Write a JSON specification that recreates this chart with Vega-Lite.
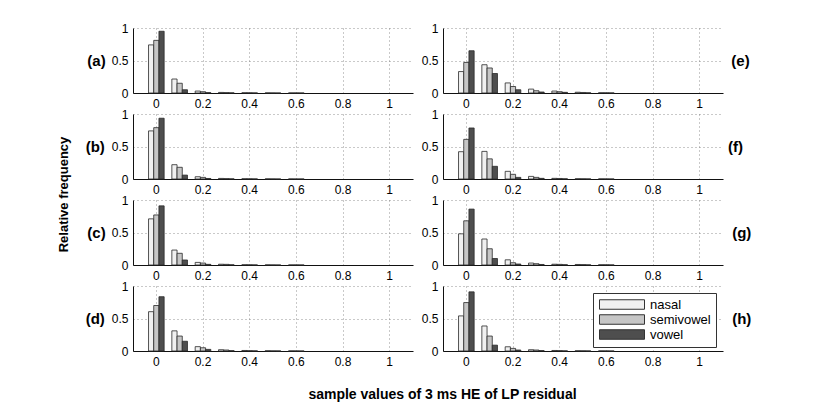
{
  "$schema": "https://vega.github.io/schema/vega-lite/v6.json",
  "padding": {"left": 57, "top": 22, "right": 5, "bottom": 5},
  "background": "white",
  "data": {"values": [
    {"panel": "(a)", "bin": 0, "type": "nasal", "value": 0.74},
    {"panel": "(a)", "bin": 0, "type": "semivowel", "value": 0.81},
    {"panel": "(a)", "bin": 0, "type": "vowel", "value": 0.95},
    {"panel": "(a)", "bin": 0.1, "type": "nasal", "value": 0.215},
    {"panel": "(a)", "bin": 0.1, "type": "semivowel", "value": 0.15},
    {"panel": "(a)", "bin": 0.1, "type": "vowel", "value": 0.05},
    {"panel": "(a)", "bin": 0.2, "type": "nasal", "value": 0.03},
    {"panel": "(a)", "bin": 0.2, "type": "semivowel", "value": 0.02},
    {"panel": "(a)", "bin": 0.2, "type": "vowel", "value": 0.006},
    {"panel": "(a)", "bin": 0.3, "type": "nasal", "value": 0.009},
    {"panel": "(a)", "bin": 0.3, "type": "semivowel", "value": 0.006},
    {"panel": "(a)", "bin": 0.3, "type": "vowel", "value": 0.002},
    {"panel": "(a)", "bin": 0.4, "type": "nasal", "value": 0.004},
    {"panel": "(a)", "bin": 0.4, "type": "semivowel", "value": 0.003},
    {"panel": "(a)", "bin": 0.4, "type": "vowel", "value": 0.001},
    {"panel": "(a)", "bin": 0.5, "type": "nasal", "value": 0.002},
    {"panel": "(a)", "bin": 0.5, "type": "semivowel", "value": 0.001},
    {"panel": "(a)", "bin": 0.5, "type": "vowel", "value": 0},
    {"panel": "(a)", "bin": 0.6, "type": "nasal", "value": 0.001},
    {"panel": "(a)", "bin": 0.6, "type": "semivowel", "value": 0.001},
    {"panel": "(a)", "bin": 0.6, "type": "vowel", "value": 0},

    {"panel": "(b)", "bin": 0, "type": "nasal", "value": 0.74},
    {"panel": "(b)", "bin": 0, "type": "semivowel", "value": 0.79},
    {"panel": "(b)", "bin": 0, "type": "vowel", "value": 0.935},
    {"panel": "(b)", "bin": 0.1, "type": "nasal", "value": 0.22},
    {"panel": "(b)", "bin": 0.1, "type": "semivowel", "value": 0.18},
    {"panel": "(b)", "bin": 0.1, "type": "vowel", "value": 0.06},
    {"panel": "(b)", "bin": 0.2, "type": "nasal", "value": 0.035},
    {"panel": "(b)", "bin": 0.2, "type": "semivowel", "value": 0.025},
    {"panel": "(b)", "bin": 0.2, "type": "vowel", "value": 0.008},
    {"panel": "(b)", "bin": 0.3, "type": "nasal", "value": 0.009},
    {"panel": "(b)", "bin": 0.3, "type": "semivowel", "value": 0.006},
    {"panel": "(b)", "bin": 0.3, "type": "vowel", "value": 0.002},
    {"panel": "(b)", "bin": 0.4, "type": "nasal", "value": 0.004},
    {"panel": "(b)", "bin": 0.4, "type": "semivowel", "value": 0.003},
    {"panel": "(b)", "bin": 0.4, "type": "vowel", "value": 0.001},
    {"panel": "(b)", "bin": 0.5, "type": "nasal", "value": 0.002},
    {"panel": "(b)", "bin": 0.5, "type": "semivowel", "value": 0.001},
    {"panel": "(b)", "bin": 0.5, "type": "vowel", "value": 0},
    {"panel": "(b)", "bin": 0.6, "type": "nasal", "value": 0.001},
    {"panel": "(b)", "bin": 0.6, "type": "semivowel", "value": 0},
    {"panel": "(b)", "bin": 0.6, "type": "vowel", "value": 0},

    {"panel": "(c)", "bin": 0, "type": "nasal", "value": 0.71},
    {"panel": "(c)", "bin": 0, "type": "semivowel", "value": 0.77},
    {"panel": "(c)", "bin": 0, "type": "vowel", "value": 0.91},
    {"panel": "(c)", "bin": 0.1, "type": "nasal", "value": 0.23},
    {"panel": "(c)", "bin": 0.1, "type": "semivowel", "value": 0.18},
    {"panel": "(c)", "bin": 0.1, "type": "vowel", "value": 0.077},
    {"panel": "(c)", "bin": 0.2, "type": "nasal", "value": 0.04},
    {"panel": "(c)", "bin": 0.2, "type": "semivowel", "value": 0.03},
    {"panel": "(c)", "bin": 0.2, "type": "vowel", "value": 0.01},
    {"panel": "(c)", "bin": 0.3, "type": "nasal", "value": 0.012},
    {"panel": "(c)", "bin": 0.3, "type": "semivowel", "value": 0.01},
    {"panel": "(c)", "bin": 0.3, "type": "vowel", "value": 0.003},
    {"panel": "(c)", "bin": 0.4, "type": "nasal", "value": 0.004},
    {"panel": "(c)", "bin": 0.4, "type": "semivowel", "value": 0.003},
    {"panel": "(c)", "bin": 0.4, "type": "vowel", "value": 0.001},
    {"panel": "(c)", "bin": 0.5, "type": "nasal", "value": 0.002},
    {"panel": "(c)", "bin": 0.5, "type": "semivowel", "value": 0.001},
    {"panel": "(c)", "bin": 0.5, "type": "vowel", "value": 0},
    {"panel": "(c)", "bin": 0.6, "type": "nasal", "value": 0.001},
    {"panel": "(c)", "bin": 0.6, "type": "semivowel", "value": 0.001},
    {"panel": "(c)", "bin": 0.6, "type": "vowel", "value": 0},

    {"panel": "(d)", "bin": 0, "type": "nasal", "value": 0.605},
    {"panel": "(d)", "bin": 0, "type": "semivowel", "value": 0.7},
    {"panel": "(d)", "bin": 0, "type": "vowel", "value": 0.835},
    {"panel": "(d)", "bin": 0.1, "type": "nasal", "value": 0.31},
    {"panel": "(d)", "bin": 0.1, "type": "semivowel", "value": 0.23},
    {"panel": "(d)", "bin": 0.1, "type": "vowel", "value": 0.15},
    {"panel": "(d)", "bin": 0.2, "type": "nasal", "value": 0.067},
    {"panel": "(d)", "bin": 0.2, "type": "semivowel", "value": 0.05},
    {"panel": "(d)", "bin": 0.2, "type": "vowel", "value": 0.025},
    {"panel": "(d)", "bin": 0.3, "type": "nasal", "value": 0.02},
    {"panel": "(d)", "bin": 0.3, "type": "semivowel", "value": 0.015},
    {"panel": "(d)", "bin": 0.3, "type": "vowel", "value": 0.005},
    {"panel": "(d)", "bin": 0.4, "type": "nasal", "value": 0.008},
    {"panel": "(d)", "bin": 0.4, "type": "semivowel", "value": 0.005},
    {"panel": "(d)", "bin": 0.4, "type": "vowel", "value": 0.002},
    {"panel": "(d)", "bin": 0.5, "type": "nasal", "value": 0.004},
    {"panel": "(d)", "bin": 0.5, "type": "semivowel", "value": 0.002},
    {"panel": "(d)", "bin": 0.5, "type": "vowel", "value": 0.001},
    {"panel": "(d)", "bin": 0.6, "type": "nasal", "value": 0.002},
    {"panel": "(d)", "bin": 0.6, "type": "semivowel", "value": 0.001},
    {"panel": "(d)", "bin": 0.6, "type": "vowel", "value": 0},

    {"panel": "(e)", "bin": 0, "type": "nasal", "value": 0.33},
    {"panel": "(e)", "bin": 0, "type": "semivowel", "value": 0.47},
    {"panel": "(e)", "bin": 0, "type": "vowel", "value": 0.65},
    {"panel": "(e)", "bin": 0.1, "type": "nasal", "value": 0.435},
    {"panel": "(e)", "bin": 0.1, "type": "semivowel", "value": 0.385},
    {"panel": "(e)", "bin": 0.1, "type": "vowel", "value": 0.3},
    {"panel": "(e)", "bin": 0.2, "type": "nasal", "value": 0.155},
    {"panel": "(e)", "bin": 0.2, "type": "semivowel", "value": 0.1},
    {"panel": "(e)", "bin": 0.2, "type": "vowel", "value": 0.05},
    {"panel": "(e)", "bin": 0.3, "type": "nasal", "value": 0.06},
    {"panel": "(e)", "bin": 0.3, "type": "semivowel", "value": 0.035},
    {"panel": "(e)", "bin": 0.3, "type": "vowel", "value": 0.015},
    {"panel": "(e)", "bin": 0.4, "type": "nasal", "value": 0.03},
    {"panel": "(e)", "bin": 0.4, "type": "semivowel", "value": 0.02},
    {"panel": "(e)", "bin": 0.4, "type": "vowel", "value": 0.01},
    {"panel": "(e)", "bin": 0.5, "type": "nasal", "value": 0.012},
    {"panel": "(e)", "bin": 0.5, "type": "semivowel", "value": 0.008},
    {"panel": "(e)", "bin": 0.5, "type": "vowel", "value": 0.003},
    {"panel": "(e)", "bin": 0.6, "type": "nasal", "value": 0.004},
    {"panel": "(e)", "bin": 0.6, "type": "semivowel", "value": 0.003},
    {"panel": "(e)", "bin": 0.6, "type": "vowel", "value": 0.001},

    {"panel": "(f)", "bin": 0, "type": "nasal", "value": 0.42},
    {"panel": "(f)", "bin": 0, "type": "semivowel", "value": 0.61},
    {"panel": "(f)", "bin": 0, "type": "vowel", "value": 0.785},
    {"panel": "(f)", "bin": 0.1, "type": "nasal", "value": 0.425},
    {"panel": "(f)", "bin": 0.1, "type": "semivowel", "value": 0.31},
    {"panel": "(f)", "bin": 0.1, "type": "vowel", "value": 0.195},
    {"panel": "(f)", "bin": 0.2, "type": "nasal", "value": 0.118},
    {"panel": "(f)", "bin": 0.2, "type": "semivowel", "value": 0.072},
    {"panel": "(f)", "bin": 0.2, "type": "vowel", "value": 0.025},
    {"panel": "(f)", "bin": 0.3, "type": "nasal", "value": 0.04},
    {"panel": "(f)", "bin": 0.3, "type": "semivowel", "value": 0.025},
    {"panel": "(f)", "bin": 0.3, "type": "vowel", "value": 0.01},
    {"panel": "(f)", "bin": 0.4, "type": "nasal", "value": 0.01},
    {"panel": "(f)", "bin": 0.4, "type": "semivowel", "value": 0.008},
    {"panel": "(f)", "bin": 0.4, "type": "vowel", "value": 0.003},
    {"panel": "(f)", "bin": 0.5, "type": "nasal", "value": 0.004},
    {"panel": "(f)", "bin": 0.5, "type": "semivowel", "value": 0.003},
    {"panel": "(f)", "bin": 0.5, "type": "vowel", "value": 0.001},
    {"panel": "(f)", "bin": 0.6, "type": "nasal", "value": 0.002},
    {"panel": "(f)", "bin": 0.6, "type": "semivowel", "value": 0.001},
    {"panel": "(f)", "bin": 0.6, "type": "vowel", "value": 0},

    {"panel": "(g)", "bin": 0, "type": "nasal", "value": 0.48},
    {"panel": "(g)", "bin": 0, "type": "semivowel", "value": 0.68},
    {"panel": "(g)", "bin": 0, "type": "vowel", "value": 0.86},
    {"panel": "(g)", "bin": 0.1, "type": "nasal", "value": 0.4},
    {"panel": "(g)", "bin": 0.1, "type": "semivowel", "value": 0.25},
    {"panel": "(g)", "bin": 0.1, "type": "vowel", "value": 0.1},
    {"panel": "(g)", "bin": 0.2, "type": "nasal", "value": 0.08},
    {"panel": "(g)", "bin": 0.2, "type": "semivowel", "value": 0.035},
    {"panel": "(g)", "bin": 0.2, "type": "vowel", "value": 0.015},
    {"panel": "(g)", "bin": 0.3, "type": "nasal", "value": 0.03},
    {"panel": "(g)", "bin": 0.3, "type": "semivowel", "value": 0.02},
    {"panel": "(g)", "bin": 0.3, "type": "vowel", "value": 0.008},
    {"panel": "(g)", "bin": 0.4, "type": "nasal", "value": 0.012},
    {"panel": "(g)", "bin": 0.4, "type": "semivowel", "value": 0.01},
    {"panel": "(g)", "bin": 0.4, "type": "vowel", "value": 0.004},
    {"panel": "(g)", "bin": 0.5, "type": "nasal", "value": 0.008},
    {"panel": "(g)", "bin": 0.5, "type": "semivowel", "value": 0.006},
    {"panel": "(g)", "bin": 0.5, "type": "vowel", "value": 0.002},
    {"panel": "(g)", "bin": 0.6, "type": "nasal", "value": 0.004},
    {"panel": "(g)", "bin": 0.6, "type": "semivowel", "value": 0.003},
    {"panel": "(g)", "bin": 0.6, "type": "vowel", "value": 0.001},

    {"panel": "(h)", "bin": 0, "type": "nasal", "value": 0.54},
    {"panel": "(h)", "bin": 0, "type": "semivowel", "value": 0.745},
    {"panel": "(h)", "bin": 0, "type": "vowel", "value": 0.91},
    {"panel": "(h)", "bin": 0.1, "type": "nasal", "value": 0.385},
    {"panel": "(h)", "bin": 0.1, "type": "semivowel", "value": 0.23},
    {"panel": "(h)", "bin": 0.1, "type": "vowel", "value": 0.09},
    {"panel": "(h)", "bin": 0.2, "type": "nasal", "value": 0.065},
    {"panel": "(h)", "bin": 0.2, "type": "semivowel", "value": 0.04},
    {"panel": "(h)", "bin": 0.2, "type": "vowel", "value": 0.015},
    {"panel": "(h)", "bin": 0.3, "type": "nasal", "value": 0.02},
    {"panel": "(h)", "bin": 0.3, "type": "semivowel", "value": 0.015},
    {"panel": "(h)", "bin": 0.3, "type": "vowel", "value": 0.006},
    {"panel": "(h)", "bin": 0.4, "type": "nasal", "value": 0.008},
    {"panel": "(h)", "bin": 0.4, "type": "semivowel", "value": 0.006},
    {"panel": "(h)", "bin": 0.4, "type": "vowel", "value": 0.002},
    {"panel": "(h)", "bin": 0.5, "type": "nasal", "value": 0.004},
    {"panel": "(h)", "bin": 0.5, "type": "semivowel", "value": 0.003},
    {"panel": "(h)", "bin": 0.5, "type": "vowel", "value": 0.001},
    {"panel": "(h)", "bin": 0.6, "type": "nasal", "value": 0.002},
    {"panel": "(h)", "bin": 0.6, "type": "semivowel", "value": 0.001},
    {"panel": "(h)", "bin": 0.6, "type": "vowel", "value": 0}
  ]},
  "title": {
    "text": "sample values of 3 ms HE of LP residual",
    "orient": "bottom",
    "anchor": "middle",
    "font": "Liberation Sans",
    "fontSize": 14,
    "fontWeight": "bold",
    "color": "#000",
    "offset": 21,
    "dx": 38
  },
  "spacing": 8,
  "hconcat": [
    {
      "title": {
        "text": "Relative frequency",
        "orient": "left",
        "anchor": "middle",
        "font": "Liberation Sans",
        "fontSize": 13,
        "fontWeight": "bold",
        "color": "#000",
        "offset": 15
      },
      "transform": [{"filter": {"field": "panel", "oneOf": ["(a)", "(b)", "(c)", "(d)"]}}],
      "bounds": "flush",
      "spacing": {"row": 21},
      "resolve": {"axis": {"x": "independent", "y": "independent"}},
      "facet": {
        "row": {
          "field": "panel",
          "type": "nominal",
          "header": {
            "title": null,
            "labelOrient": "left",
            "labelAngle": 0,
            "labelAlign": "right",
            "labelBaseline": "middle",
            "labelFont": "Liberation Sans",
            "labelFontSize": 15,
            "labelFontWeight": "bold",
            "labelColor": "#000",
            "labelPadding": 9
          }
        }
      },
      "spec": {
        "width": 280,
        "height": 65,
        "mark": {"type": "bar", "stroke": "#2a2a2a", "strokeWidth": 0.8},
        "encoding": {
          "x": {
            "field": "bin",
            "type": "ordinal",
            "scale": {"domain": [0, 0.1, 0.2, 0.3, 0.4, 0.5, 0.6, 0.7, 0.8, 0.9, 1], "paddingInner": 0.33, "paddingOuter": 0.665},
            "axis": {"values": [0, 0.2, 0.4, 0.6, 0.8, 1], "bandPosition": 0.5, "labelAngle": 0, "title": null, "grid": true}
          },
          "xOffset": {
            "field": "type",
            "type": "nominal",
            "scale": {"domain": ["nasal", "semivowel", "vowel"], "paddingInner": 0, "paddingOuter": 0}
          },
          "y": {
            "field": "value",
            "type": "quantitative",
            "scale": {"domain": [0, 1]},
            "axis": {"values": [0, 0.5, 1], "format": "~g", "title": null, "grid": true}
          },
          "color": {
            "field": "type",
            "type": "nominal",
            "scale": {"domain": ["nasal", "semivowel", "vowel"], "range": ["#f0f0f0", "#c6c6c6", "#4e4e4e"]},
            "legend": {
              "orient": "none",
              "legendX": 460,
              "legendY": 265,
              "title": null
            }
          }
        }
      }
    },
    {
      "transform": [{"filter": {"field": "panel", "oneOf": ["(e)", "(f)", "(g)", "(h)"]}}],
      "bounds": "flush",
      "spacing": {"row": 21},
      "resolve": {"axis": {"x": "independent", "y": "independent"}},
      "facet": {
        "row": {
          "field": "panel",
          "type": "nominal",
          "header": {
            "title": null,
            "labelOrient": "right",
            "labelAngle": 0,
            "labelAlign": "left",
            "labelBaseline": "middle",
            "labelFont": "Liberation Sans",
            "labelFontSize": 15,
            "labelFontWeight": "bold",
            "labelColor": "#000",
            "labelPadding": -10
          }
        }
      },
      "spec": {
        "width": 280,
        "height": 65,
        "mark": {"type": "bar", "stroke": "#2a2a2a", "strokeWidth": 0.8},
        "encoding": {
          "x": {
            "field": "bin",
            "type": "ordinal",
            "scale": {"domain": [0, 0.1, 0.2, 0.3, 0.4, 0.5, 0.6, 0.7, 0.8, 0.9, 1], "paddingInner": 0.33, "paddingOuter": 0.665},
            "axis": {"values": [0, 0.2, 0.4, 0.6, 0.8, 1], "bandPosition": 0.5, "labelAngle": 0, "title": null, "grid": true}
          },
          "xOffset": {
            "field": "type",
            "type": "nominal",
            "scale": {"domain": ["nasal", "semivowel", "vowel"], "paddingInner": 0, "paddingOuter": 0}
          },
          "y": {
            "field": "value",
            "type": "quantitative",
            "scale": {"domain": [0, 1]},
            "axis": {"values": [0, 0.5, 1], "format": "~g", "title": null, "grid": true}
          },
          "color": {
            "field": "type",
            "type": "nominal",
            "scale": {"domain": ["nasal", "semivowel", "vowel"], "range": ["#f0f0f0", "#c6c6c6", "#4e4e4e"]}
          }
        }
      }
    }
  ],
  "config": {
    "font": "Liberation Sans",
    "view": {"stroke": null},
    "axis": {
      "labelFont": "Liberation Sans",
      "labelFontSize": 12,
      "labelColor": "#000",
      "ticks": false,
      "labelPadding": 5,
      "domainColor": "#111",
      "domainWidth": 1,
      "gridColor": "#777",
      "gridWidth": 0.8,
      "gridDash": [1, 3]
    },
    "legend": {
      "symbolType": "M-4.5,-0.95H4.5V0.95H-4.5Z",
      "symbolSize": 100,
      "symbolOffset": 17.5,
      "symbolStrokeColor": "#333",
      "symbolStrokeWidth": 1,
      "symbolOpacity": 1,
      "labelFont": "Liberation Sans",
      "labelFontSize": 13,
      "labelColor": "#000",
      "labelOffset": 21.5,
      "rowPadding": 0,
      "padding": 5,
      "strokeColor": "#333",
      "fillColor": "white"
    }
  }
}
